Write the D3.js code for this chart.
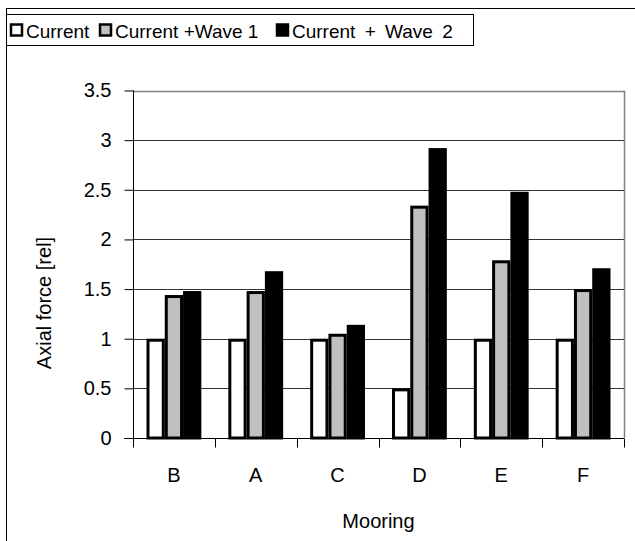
<!DOCTYPE html>
<html>
<head>
<meta charset="utf-8">
<script src="https://cdn.jsdelivr.net/npm/d3@7"></script>
<style>
  html, body { margin: 0; padding: 0; background: #fff; }
  svg { display: block; }
  text { font-family: "Liberation Sans", Arial, sans-serif; fill: #000; }
</style>
</head>
<body>
<script>
// Moorings in display order
const moorings = ["B", "A", "C", "D", "E", "F"];
// Series names and fills
const seriesNames = ["Current", "Current +Wave 1", "Current + Wave 2"];
const seriesFills = ["#ffffff", "#c0c0c0", "#000000"];
// Relative axial force per mooring, one array per load case
const current      = [1.00, 1.00, 1.00, 0.50, 1.00, 1.00];
const currentWave1 = [1.44, 1.48, 1.05, 2.34, 1.79, 1.50];
const currentWave2 = [1.48, 1.68, 1.14, 2.92, 2.48, 1.71];
const yTicks = [0, 0.5, 1, 1.5, 2, 2.5, 3, 3.5];

const seriesValues = [current, currentWave1, currentWave2];

const W = 635, H = 541;
const plot = { left: 133, right: 624, top: 90.5, bottom: 438 };
const FS = "20px";

const svg = d3.select("body").append("svg")
  .attr("width", W).attr("height", H);

// chart frame
svg.append("rect")
  .attr("x", 6.5).attr("y", 8.5).attr("width", W + 10).attr("height", H + 10)
  .attr("fill", "#fff").attr("stroke", "#000").attr("stroke-width", 1);

const x0 = d3.scaleBand().domain(moorings)
  .range([plot.left, plot.right]).paddingInner(0.33).paddingOuter(0.165);
const x1 = d3.scaleBand().domain(d3.range(seriesNames.length))
  .range([0, x0.bandwidth()]);
const y = d3.scaleLinear().domain([0, 3.5]).range([plot.bottom, plot.top]);

// horizontal gridlines
svg.append("g").selectAll("line").data(yTicks.filter(v => v > 0 && v < 3.5)).join("line")
  .attr("x1", plot.left).attr("x2", plot.right)
  .attr("y1", d => Math.round(y(d)) + 0.5).attr("y2", d => Math.round(y(d)) + 0.5)
  .attr("stroke", "#333").attr("stroke-width", 1);

// plot area border (top and right)
svg.append("path")
  .attr("d", `M${plot.left},${Math.round(plot.top) + 0.5}H${plot.right + 0.5}V${plot.bottom}`)
  .attr("fill", "none").attr("stroke", "#808080").attr("stroke-width", 1.5);

// bars
const SW = 3;
const rows = moorings.map((m, i) => ({ m, vals: seriesValues.map(s => s[i]) }));
svg.append("g").selectAll("g").data(rows).join("g")
  .attr("transform", d => `translate(${x0(d.m)},0)`)
  .selectAll("rect").data(d => d.vals.map((v, k) => ({ v, k }))).join("rect")
  .attr("x", d => x1(d.k) + SW / 2)
  .attr("width", x1.bandwidth() - SW)
  .attr("y", d => y(d.v) + SW / 2)
  .attr("height", d => y(0) - y(d.v) - SW / 2)
  .attr("fill", d => seriesFills[d.k])
  .attr("stroke", "#000").attr("stroke-width", SW);

// y axis
const yAxis = svg.append("g")
  .attr("transform", `translate(${plot.left + 0.5},0)`)
  .call(d3.axisLeft(y).tickValues(yTicks).tickFormat(d3.format("")).tickSize(9).tickPadding(13));
yAxis.select(".domain").attr("stroke", "#000").attr("d", `M0,${plot.top}V${plot.bottom + 9}`);
yAxis.selectAll(".tick line").attr("stroke", "#000");
yAxis.selectAll("text").style("font-size", FS).attr("fill", "#000");

// x axis with ticks between categories
const xAxis = svg.append("g").attr("transform", `translate(0,${plot.bottom + 0.5})`);
xAxis.append("line").attr("x1", plot.left - 9).attr("x2", plot.right)
  .attr("stroke", "#000");
const bounds = d3.range(moorings.length + 1).map(i => plot.left + i * (plot.right - plot.left) / moorings.length);
xAxis.selectAll("line.b").data(bounds).join("line").attr("class", "b")
  .attr("x1", d => Math.round(d) + 0.5).attr("x2", d => Math.round(d) + 0.5)
  .attr("y1", 0).attr("y2", 9).attr("stroke", "#000");
xAxis.selectAll("text").data(moorings).join("text")
  .attr("x", d => x0(d) + x0.bandwidth() / 2)
  .attr("y", 43).attr("text-anchor", "middle").style("font-size", FS)
  .text(d => d);

// axis titles
svg.append("text")
  .attr("x", (plot.left + plot.right) / 2).attr("y", 528)
  .attr("text-anchor", "middle").style("font-size", FS).text("Mooring");
svg.append("text")
  .attr("transform", `translate(51,303) rotate(-90)`)
  .attr("text-anchor", "middle").style("font-size", FS).text("Axial force [rel]");

// legend
const lg = svg.append("g");
lg.append("rect").attr("x", 6.5).attr("y", 14.5).attr("width", 467).attr("height", 31)
  .attr("fill", "#fff").attr("stroke", "#000").attr("stroke-width", 1);
const legendX = [11, 100, 277];
const wordGap = ["0px", "0px", "4px"];
seriesNames.forEach((name, k) => {
  lg.append("rect").attr("x", legendX[k]).attr("y", 24.5).attr("width", 11).attr("height", 11)
    .attr("fill", seriesFills[k]).attr("stroke", "#000").attr("stroke-width", 2.5);
  lg.append("text").attr("x", legendX[k] + 15).attr("y", 37.5)
    .style("font-size", "19px").style("word-spacing", wordGap[k]).text(name);
});
</script>
</body>
</html>
